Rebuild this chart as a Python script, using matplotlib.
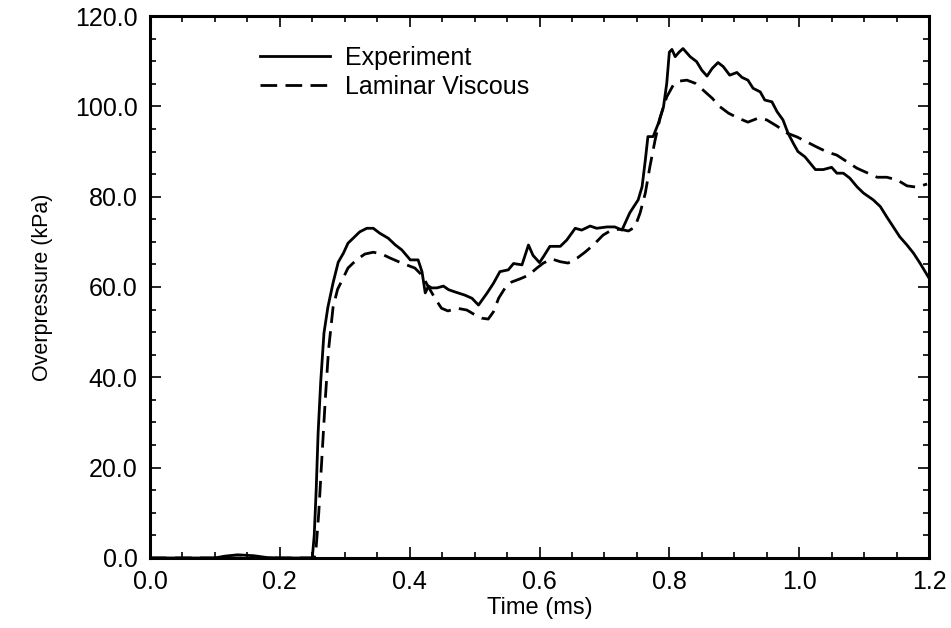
import numpy as np
import matplotlib
matplotlib.use("Agg")
import matplotlib.pyplot as plt
from matplotlib.ticker import MultipleLocator, FormatStrFormatter

plt.rcParams['font.family'] = ['Liberation Sans', 'DejaVu Sans']

# Experiment trace (time in ms, overpressure in kPa)
t_exp = [0.0, 0.10, 0.115, 0.135, 0.16, 0.18, 0.20, 0.250, 0.253, 0.256, 0.259, 0.263,
         0.268, 0.274, 0.282, 0.290, 0.298, 0.305, 0.313, 0.323, 0.334, 0.344, 0.354,
         0.367, 0.378, 0.388, 0.401, 0.413, 0.419, 0.424, 0.429, 0.434, 0.442, 0.452,
         0.460, 0.470, 0.485, 0.496, 0.506, 0.519, 0.529, 0.539, 0.552, 0.560, 0.573,
         0.583, 0.590, 0.600, 0.606, 0.616, 0.632, 0.642, 0.655, 0.665, 0.678, 0.688,
         0.704, 0.716, 0.727, 0.739, 0.752, 0.758, 0.763, 0.767, 0.775, 0.783, 0.791,
         0.796, 0.800, 0.804, 0.809, 0.815, 0.821, 0.832, 0.842, 0.850, 0.858, 0.866,
         0.875, 0.883, 0.893, 0.904, 0.912, 0.921, 0.929, 0.940, 0.947, 0.958, 0.966,
         0.975, 0.983, 0.991, 0.998, 1.009, 1.017, 1.025, 1.037, 1.050, 1.058, 1.068,
         1.078, 1.089, 1.099, 1.114, 1.125, 1.135, 1.145, 1.155, 1.166, 1.176, 1.186,
         1.199]
p_exp = [0.0, 0.0, 0.4, 0.7, 0.5, 0.1, 0.0, 0.0, 5.0, 15.0, 27.7, 39.0,
         49.8, 55.5, 60.9, 65.5, 67.5, 69.7, 70.8, 72.2, 73.0, 73.0, 71.9,
         70.8, 69.3, 68.2, 66.0, 66.0, 63.4, 58.7, 60.2, 59.8, 59.8, 60.2,
         59.4, 58.9, 58.2, 57.5, 56.0, 58.6, 60.8, 63.4, 63.8, 65.2, 64.9,
         69.3, 67.0, 65.4, 66.7, 69.0, 69.0, 70.4, 73.0, 72.6, 73.5, 73.0,
         73.3, 73.3, 72.6, 76.4, 79.3, 82.2, 88.1, 93.3, 93.3, 96.2, 99.9,
         105.1, 112.0, 112.6, 111.0, 112.0, 112.8, 111.0, 109.9, 108.0, 106.7, 108.4,
         109.7, 108.8, 106.9, 107.5, 106.4, 105.8, 104.0, 103.2, 101.4, 101.0, 98.8,
         97.0, 94.0, 91.8, 90.0, 88.8, 87.4, 86.0, 86.0, 86.5, 85.2, 85.2,
         84.1, 82.2, 80.8, 79.3, 77.8, 75.5, 73.3, 71.1, 69.3, 67.5, 65.3,
         62.2]

# Laminar viscous simulation
t_lam = [0.0, 0.253, 0.256, 0.260, 0.264, 0.270, 0.275, 0.282, 0.289, 0.296, 0.305,
         0.318, 0.331, 0.344, 0.357, 0.370, 0.383, 0.395, 0.408, 0.419, 0.429, 0.439,
         0.449, 0.459, 0.473, 0.488, 0.501, 0.511, 0.521, 0.529, 0.537, 0.547, 0.557,
         0.570, 0.583, 0.596, 0.606, 0.619, 0.632, 0.644, 0.658, 0.670, 0.683, 0.698,
         0.711, 0.724, 0.737, 0.747, 0.755, 0.763, 0.770, 0.778, 0.786, 0.796, 0.806,
         0.816, 0.827, 0.840, 0.852, 0.866, 0.878, 0.891, 0.906, 0.921, 0.937, 0.950,
         0.966, 0.981, 0.997, 1.012, 1.027, 1.043, 1.058, 1.074, 1.089, 1.106, 1.120,
         1.135, 1.151, 1.166, 1.181, 1.197]
p_lam = [0.0, 0.0, 2.4, 10.0, 20.2, 35.0, 46.0, 55.5, 59.5, 61.5, 64.2,
         66.0, 67.3, 67.7, 67.3, 66.4, 65.6, 64.9, 64.2, 62.6, 60.0, 57.5,
         55.3, 54.7, 55.3, 54.9, 53.8, 53.1, 52.9, 54.5, 57.5, 59.8, 61.1,
         61.8, 62.6, 64.2, 65.3, 66.2, 65.6, 65.3, 66.4, 67.7, 69.3, 71.5,
         72.6, 72.8, 72.4, 73.3, 76.4, 80.8, 86.6, 92.5, 97.6, 102.1, 104.7,
         105.6, 105.8, 105.1, 103.6, 101.8, 99.9, 98.5, 97.4, 96.5, 97.4, 97.0,
         95.6, 94.1, 93.2, 92.1, 91.0, 89.9, 89.2, 87.7, 86.3, 85.2, 84.3,
         84.3, 83.7, 82.4, 82.1, 82.8]

fig = plt.figure(figsize=(9.51, 6.28), dpi=100)
ax = fig.add_axes([0.1577, 0.1115, 0.8192, 0.863])

ax.plot(t_exp, p_exp, color='black', lw=2.0, label='Experiment')
ax.plot(t_lam, p_lam, color='black', lw=2.0, dashes=(6, 3), label='Laminar Viscous')

ax.set_xlim(0, 1.2)
ax.set_ylim(0, 120)
ax.xaxis.set_major_locator(MultipleLocator(0.2))
ax.xaxis.set_minor_locator(MultipleLocator(0.05))
ax.yaxis.set_major_locator(MultipleLocator(20))
ax.yaxis.set_minor_locator(MultipleLocator(5))
ax.xaxis.set_major_formatter(FormatStrFormatter('%.1f'))
ax.yaxis.set_major_formatter(FormatStrFormatter('%.1f'))
ax.tick_params(which='both', direction='in', top=True, right=True, width=1.2)
ax.tick_params(which='major', length=8, labelsize=18, pad=9)
ax.tick_params(which='minor', length=4)
for s in ax.spines.values():
    s.set_linewidth(2.2)

ax.set_xlabel('Time (ms)', fontsize=17, labelpad=2)
ax.set_ylabel('Overpressure (kPa)', fontsize=15.5, labelpad=16)

ax.legend(loc='upper left', bbox_to_anchor=(0.112, 0.987), frameon=False,
          fontsize=18, handlelength=2.8, handletextpad=0.6, labelspacing=0.2)

fig.savefig('out.png', dpi=100)
